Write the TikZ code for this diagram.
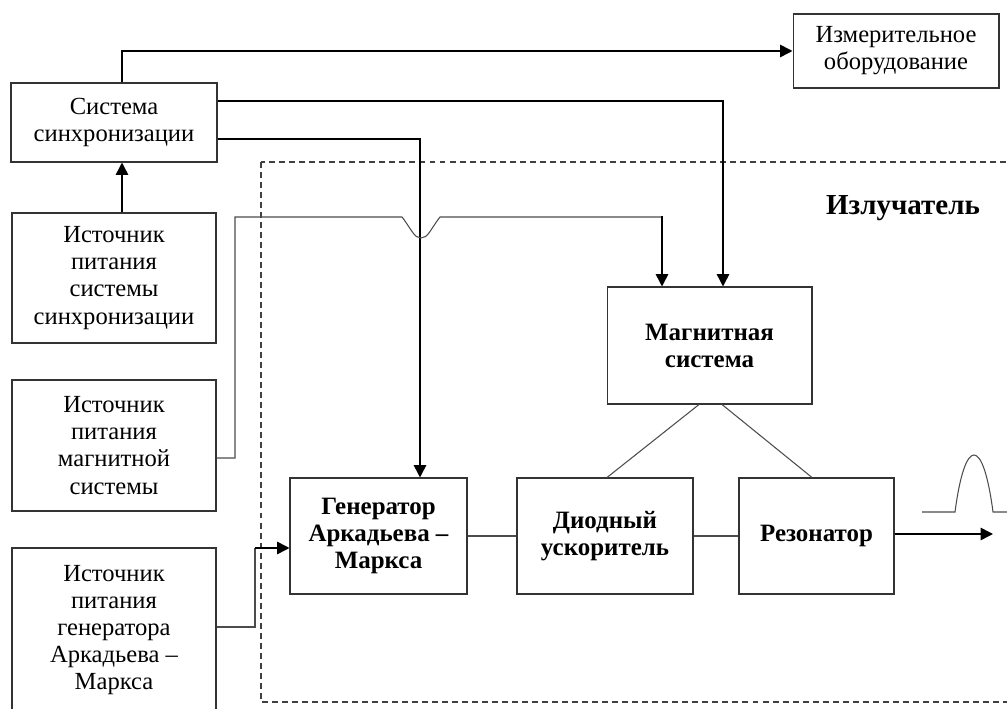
\documentclass[tikz,border=0pt]{standalone}
\usepackage{fontspec}
\setmainfont{Liberation Serif}
\usetikzlibrary{arrows.meta}

\begin{document}
\begin{tikzpicture}[x=0.02cm,y=-0.02cm]
\tikzset{
    blok/.style={draw=black!80, line width=0.6pt, align=center, inner sep=0pt,
        font=\fontsize{14}{15.4}\selectfont},
    bblok/.style={blok, font=\fontsize{14.2}{15.4}\selectfont\bfseries},
    strelka/.style={-{Triangle[length=7pt,width=7pt]}, line width=0.9pt},
    svyaz/.style={draw=black!70, line width=0.6pt}
}
\useasboundingbox (0,0) rectangle (1007,709);

% излучатель
\draw[black!75, line width=0.6pt, dash pattern=on 3.4pt off 2.3pt] (261,162) rectangle (1020,702);
\node[font=\fontsize{16.5}{18}\selectfont\bfseries] (izl) at (903,208) {Излучатель};

% блоки слева
\node[blok, minimum width=4.12cm, minimum height=1.58cm] (sync) at (114,122.5) {Система\\синхронизации};
\node[blok, minimum width=4.12cm, minimum height=1.48cm] (izm) at (896,51) {Измерительное\\оборудование};
\node[blok, minimum width=4.08cm, minimum height=2.6cm] (srcsync) at (114,278) {Источник\\питания\\системы\\синхронизации};
\node[blok, minimum width=4.08cm, minimum height=2.62cm] (srcmag) at (114,445.5) {Источник\\питания\\магнитной\\системы};
\node[blok, minimum width=4.08cm, minimum height=3.28cm] (srcgen) at (114,630) {Источник\\питания\\генератора\\Аркадьева~--\\Маркса};

% блоки излучателя
\node[bblok, minimum width=3.54cm, minimum height=2.32cm] (gen) at (378.5,536) {Генератор\\Аркадьева~--\\Маркса};
\node[bblok, minimum width=3.52cm, minimum height=2.32cm] (diode) at (605,536) {Диодный\\ускоритель};
\node[bblok, minimum width=3.1cm, minimum height=2.32cm] (res) at (816.5,536) {Резонатор};
\node[bblok, minimum width=4.1cm, minimum height=2.34cm] (mag) at (709.5,345.5) {Магнитная\\система};
\coordinate (out) at (993,534);

% сигналы синхронизации
\draw[strelka] (sync.north -| 122,0) |- (izm.west);
\draw[strelka] (sync.east |- 0,101) -| (mag.north -| 723,0);
\draw[strelka] (sync.east |- 0,139) -| (gen.north -| 420,0);
\draw[strelka] (srcsync.north -| 122,0) -- (sync.south -| 122,0);

% питание
\draw[svyaz] (srcmag.east |- 0,458) -- (235,458) -- (235,217) -- (402,217)
    .. controls (412,230) and (414,238) .. (421,238) .. controls (428,238) and (430,230) .. (440,217) -- (662,217);
\draw[strelka] (662,216) -- (mag.north -| 662,0);
\draw[svyaz] (srcgen.east |- 0,627) -- (255,627) -- (255,548);
\draw[strelka] (254.6,548) -- (gen.west |- 0,548);

% связи внутри излучателя
\draw[svyaz] (gen.east) -- (diode.west);
\draw[svyaz] (diode.east) -- (res.west);
\draw[svyaz] (mag.south -| 699,0) -- (diode.north -| 607,0);
\draw[svyaz] (mag.south -| 722,0) -- (res.north -| 812,0);
\draw[strelka] (res.east |- out) -- (out);

% импульс
\draw[svyaz] (922,512) -- (955,512) .. controls (965,436) and (983,436) .. (993,512) -- (1007,512);

\end{tikzpicture}
\end{document}
